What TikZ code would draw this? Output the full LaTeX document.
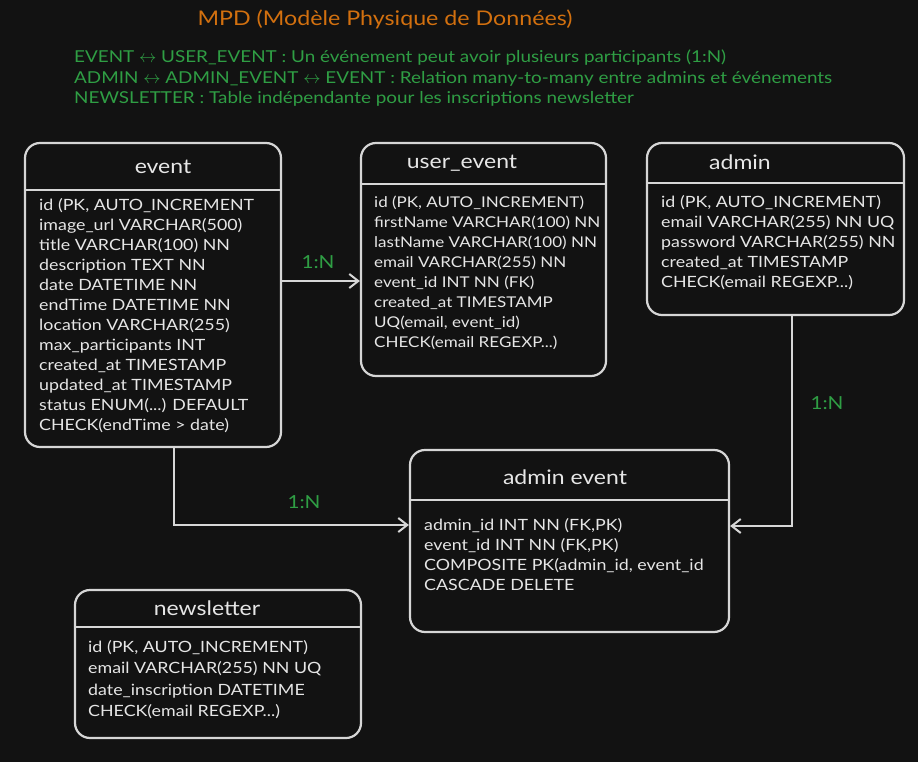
\documentclass[tikz,border=0pt]{standalone}
\usepackage{fontspec}
\setmainfont{Lato}[FakeStretch=1.15]
\usetikzlibrary{arrows.meta}
\definecolor{bg}{HTML}{121212}
\definecolor{ln}{HTML}{D6D6D6}
\definecolor{tx}{HTML}{E6E6E6}
\definecolor{grn}{HTML}{2F9E44}
\definecolor{org}{HTML}{D2700F}
\tikzset{
  tbl/.style={draw=ln, line width=2.2pt, rounded corners=15pt, fill=bg, inner sep=0pt},
  sep/.style={draw=ln, line width=2.2pt},
  hdr/.style={text=tx, font=\fontsize{20}{22}\selectfont, inner sep=0pt},
  body/.style={text=tx, font=\fontsize{15.5}{20}\selectfont, align=left, anchor=north west, inner sep=0pt},
  note/.style={text=grn, font=\fontsize{16.4}{20.5}\selectfont, align=left, anchor=north west, inner sep=0pt},
  lbl/.style={text=grn, font=\fontsize{18}{20}\selectfont, inner sep=0pt},
  conn/.style={draw=ln, line width=2.2pt, -{Straight Barb[length=9pt,width=14pt,line width=2pt]}}
}
\begin{document}
\begin{tikzpicture}[x=1pt,y=-1pt]
\fill[bg] (0,0) rectangle (918,762);
\useasboundingbox (0,0) rectangle (918,762);

\node[text=org, font=\fontsize{20.2}{24}\selectfont, inner sep=0pt] (title) at (385,19) {MPD (Modèle Physique de Données)};
\node[note] (notes) at (74,50) {EVENT $\leftrightarrow$ USER\_EVENT : Un événement peut avoir plusieurs participants (1:N)\\
ADMIN $\leftrightarrow$ ADMIN\_EVENT $\leftrightarrow$ EVENT : Relation many-to-many entre admins et événements\\
NEWSLETTER : Table indépendante pour les inscriptions newsletter};

% event
\node[tbl, minimum width=256pt, minimum height=304pt] (event) at (153,295) {};
\draw[sep] (event.west |- 0,190) -- (event.east |- 0,190);
\node[hdr] (eventh) at (163,167) {event};
\node[body] (eventb) at (39,198) {id (PK, AUTO\_INCREMENT\\
image\_url VARCHAR(500)\\
title VARCHAR(100) NN\\
description TEXT NN\\
date DATETIME NN\\
endTime DATETIME NN\\
location VARCHAR(255)\\
max\_participants INT\\
created\_at TIMESTAMP\\
updated\_at TIMESTAMP\\
status ENUM(...) DEFAULT\\
CHECK(endTime > date)};

% user_event
\node[tbl, minimum width=245pt, minimum height=233pt] (uevent) at (483.5,259.5) {};
\draw[sep] (uevent.west |- 0,184) -- (uevent.east |- 0,184);
\node[hdr] (ueventh) at (462,163) {user\_event};
\node[body, font=\fontsize{14.8}{20}\selectfont] (ueventb) at (374,196) {id (PK, AUTO\_INCREMENT)\\
firstName VARCHAR(100) NN\\
lastName VARCHAR(100) NN\\
email VARCHAR(255) NN\\
event\_id INT NN (FK)\\
created\_at TIMESTAMP\\
UQ(email, event\_id)\\
CHECK(email REGEXP...)};

% admin
\node[tbl, minimum width=257pt, minimum height=172pt] (admin) at (775.5,229) {};
\draw[sep] (admin.west |- 0,183) -- (admin.east |- 0,183);
\node[hdr] (adminh) at (740,162) {admin};
\node[body] (adminb) at (661,195) {id (PK, AUTO\_INCREMENT)\\
email VARCHAR(255) NN UQ\\
password VARCHAR(255) NN\\
created\_at TIMESTAMP\\
CHECK(email REGEXP...)};

% admin event
\node[tbl, minimum width=319pt, minimum height=182pt] (aevent) at (569.5,541) {};
\draw[sep] (aevent.west |- 0,500) -- (aevent.east |- 0,500);
\node[hdr] (aeventh) at (565,477) {admin event};
\node[body] (aeventb) at (424,518) {admin\_id INT NN (FK,PK)\\
event\_id INT NN (FK,PK)\\
COMPOSITE PK(admin\_id, event\_id\\
CASCADE DELETE};

% newsletter
\node[tbl, minimum width=286pt, minimum height=148pt] (news) at (218,664) {};
\draw[sep] (news.west |- 0,627) -- (news.east |- 0,627);
\node[hdr] (newsh) at (207,608) {newsletter};
\node[body, font=\fontsize{15.5}{21.5}\selectfont] (newsb) at (88,640) {id (PK, AUTO\_INCREMENT)\\
email VARCHAR(255) NN UQ\\
date\_inscription DATETIME\\
CHECK(email REGEXP...)};

% connectors
\draw[conn] (event.east |- 0,281) -- (uevent.west |- 0,281);
\node[lbl] (l1) at (318,262) {1:N};
\draw[conn] (event.south -| 174,0) |- (aevent.west |- 0,525);
\node[lbl] (l2) at (304,502) {1:N};
\draw[conn] (admin.south -| 792,0) |- (aevent.east |- 0,526);
\node[lbl] (l3) at (827,403) {1:N};
\end{tikzpicture}
\end{document}
